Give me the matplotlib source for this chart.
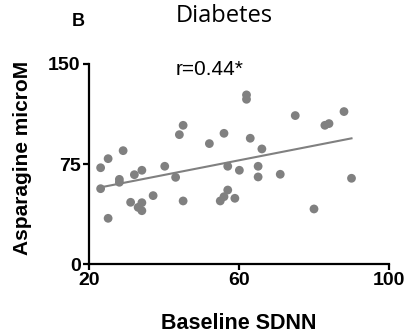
import numpy as np
import matplotlib
matplotlib.use("Agg")
import matplotlib.pyplot as plt

# Baseline SDNN vs asparagine
sdnn = [23.1, 25.1, 29.1, 23.1, 25.1, 28.1, 28.1, 31.1, 32.1, 34.1,
        33.1, 34.1, 34.1, 37.1, 40.2, 43.1, 44.1, 45.1, 45.1, 52.1,
        56.0, 57.0, 55.0, 56.0, 57.0, 58.9, 60.1, 62.0, 62.0, 63.0,
        65.1, 65.1, 66.1, 71.0, 75.0, 80.0, 82.9, 84.0, 88.0, 90.0]
asparagine = [72.2, 79.0, 85.0, 56.5, 34.3, 63.5, 61.3, 46.3, 67.0, 70.3,
              42.5, 46.0, 40.0, 51.3, 73.3, 65.0, 97.0, 104.0, 47.3, 90.3,
              98.0, 73.3, 47.3, 50.5, 55.5, 49.3, 70.3, 126.8, 123.5, 94.3,
              73.3, 65.3, 86.3, 67.3, 111.3, 41.3, 104.0, 105.3, 114.3, 64.3]
x_ticks = [20, 60, 100]
y_ticks = [0, 75, 150]
r_label = "r=0.44*"

plt.rcParams['font.family'] = ['Liberation Sans', 'DejaVu Sans']

fig = plt.figure(figsize=(4.09, 3.33), dpi=100)
ax = fig.add_axes([0.2176, 0.207, 0.7335, 0.601])

grey = '#808080'
ax.scatter(sdnn, asparagine, s=40, color=grey, edgecolors='none', zorder=3)

# linear fit over the range of the data
x = np.array(sdnn)
y = np.array(asparagine)
slope, intercept = np.polyfit(x, y, 1)
xs = np.array([x.min(), x.max()])
ax.plot(xs, slope * xs + intercept, color=grey, lw=1.5, zorder=2)

ax.set_xlim(20, 100)
ax.set_ylim(0, 150)
ax.set_xticks(x_ticks)
ax.set_yticks(y_ticks)
ax.spines['top'].set_visible(False)
ax.spines['right'].set_visible(False)
for s in ['left', 'bottom']:
    ax.spines[s].set_linewidth(1.6)
ax.tick_params(width=1.6, length=4.5, labelsize=14, pad=1.5)
for lab in ax.get_xticklabels() + ax.get_yticklabels():
    lab.set_fontweight('bold')

ax.set_xlabel('Baseline SDNN', fontsize=15.5, fontweight='bold')
ax.set_ylabel('Asparagine microM', fontsize=15, fontweight='bold')
ax.xaxis.set_label_coords(0.5, -0.245)
ax.yaxis.set_label_coords(-0.19, 0.53)

ax.text(0.29, 0.97, r_label, transform=ax.transAxes, fontsize=15,
        va='center', ha='left')
fig.text(0.548, 0.952, 'Diabetes', fontsize=17, ha='center', va='center',
         family=['Open Sans', 'DejaVu Sans'])
fig.text(0.192, 0.935, 'B', fontsize=13, fontweight='bold', ha='center',
         va='center')

fig.savefig('out.png', dpi=100)
